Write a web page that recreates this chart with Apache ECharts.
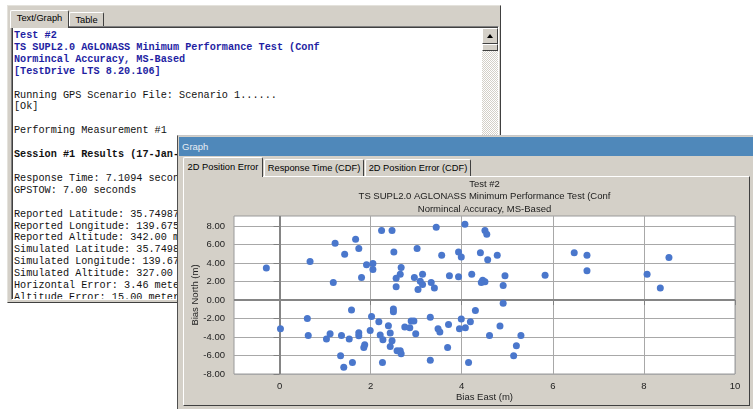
<!DOCTYPE html>
<html>
<head>
<meta charset="utf-8">
<title>2D Position Error</title>
<script src="https://cdn.jsdelivr.net/npm/echarts@6/dist/echarts.min.js"></script>
<style>
  body { margin: 0; width: 753px; height: 409px; overflow: hidden; background: #fff; position: relative;
         font-family: "Liberation Sans", Arial, sans-serif; }
  /* text window behind */
  #tw { position: absolute; left: 7px; top: 5px; width: 494px; height: 298px; box-sizing: border-box;
        background: #d4d0c8; border-top: 1px solid #e4e2dc; border-left: 1px solid #e4e2dc;
        border-right: 1px solid #404040; border-bottom: 1px solid #404040; }
  .tab { position: absolute; box-sizing: border-box; background: #d4d0c8; font-size: 9.3px; color: #000;
         text-align: center; border-top: 1px solid #fff; border-left: 1px solid #fff;
         border-right: 1px solid #404040; border-radius: 2px 2px 0 0; }
  #tbox { position: absolute; left: 3px; top: 20px; width: 488px; height: 274px; box-sizing: border-box;
          background: #fff; overflow: hidden; border-top: 1px solid #808080; border-left: 1px solid #808080;
          border-right: 1px solid #fff; border-bottom: 1px solid #fff; box-shadow: inset 1px 1px 0 #404040; }
  #tbox pre { position: absolute; left: 2px; top: 3px; margin: 0; font-family: "Liberation Mono", "Courier New", monospace;
              font-size: 10.2px; line-height: 11.9px; color: #111; }
  #tbox pre b.blue { color: #1f1fa3; }
  #sb { position: absolute; right: 0; top: 1px; width: 16px; bottom: 0;
        background-image: repeating-conic-gradient(#fff 0 25%, #d4d0c8 0 50%); background-size: 2px 2px; }
  .btn { position: absolute; left: 0; width: 16px; box-sizing: border-box; background: #d4d0c8;
         border-top: 1px solid #fff; border-left: 1px solid #fff; border-right: 1px solid #404040; border-bottom: 1px solid #404040; }
  .up { top: 0; height: 16px; }
  .up:after { content: ""; position: absolute; left: 4px; top: 5px; border-left: 3px solid transparent;
              border-right: 3px solid transparent; border-bottom: 4px solid #000; }
  .thumb { top: 16px; height: 7px; }
  /* graph window in front */
  #gw { position: absolute; left: 177px; top: 135px; width: 600px; height: 300px; background: #d4d0c8;
        border-left: 1px solid #505050; border-top: 1px solid #c8c8c8; }
  #gtitle { position: absolute; left: 1px; top: 1px; right: 0; height: 19px; background: #4f88ba;
            color: #e8eef4; font-size: 9.5px; line-height: 19px; padding-left: 3px; }
  .gtab { position: absolute; box-sizing: border-box; font-size: 9.3px; color: #000; text-align: center;
          border-top: 1px solid #fff; border-left: 1px solid #fff; border-right: 1px solid #404040;
          border-radius: 2px 2px 0 0; background: #d4d0c8; }
  #gpanel { position: absolute; left: 5px; top: 40px; width: 567px; height: 230px; box-sizing: border-box;
            border-top: 1px solid #fff; border-left: 1px solid #fff; border-right: 1px solid #404040; border-bottom: 1px solid #404040; }
  #chart { position: absolute; left: 0; top: 0; width: 753px; height: 409px; z-index: 10; }
</style>
</head>
<body>
<div id="tw">
  <div class="tab" style="left:2px;top:4px;width:59px;height:18px;line-height:15px;z-index:2">Text/Graph</div>
  <div class="tab" style="left:61px;top:6px;width:35px;height:14px;line-height:14px">Table</div>
  <div id="tbox">
<pre><b class="blue">Test #2</b>
<b class="blue">TS SUPL2.0 AGLONASS Minimum Performance Test (Conf</b>
<b class="blue">Normincal Accuracy, MS-Based</b>
<b class="blue">[TestDrive LTS 8.20.106]</b>

Running GPS Scenario File: Scenario 1......
[Ok]

Performing Measurement #1

<b>Session #1 Results (17-Jan-</b>

Response Time: 7.1094 secon
GPSTOW: 7.00 seconds

Reported Latitude: 35.74987
Reported Longitude: 139.675
Reported Altitude: 342.00 m
Simulated Latitude: 35.7498
Simulated Longitude: 139.67
Simulated Altitude: 327.00
Horizontal Error: 3.46 mete
Altitude Error: 15.00 meter</pre>
    <div id="sb"><div class="btn up"></div><div class="btn thumb"></div></div>
  </div>
</div>

<div id="gw">
  <div id="gtitle">Graph</div>
  <div class="gtab" style="left:5px;top:21px;width:80px;height:20px;line-height:19px;z-index:2">2D Position Error</div>
  <div class="gtab" style="left:86px;top:23px;width:100px;height:17px;line-height:16px">Response Time (CDF)</div>
  <div class="gtab" style="left:187px;top:23px;width:106px;height:17px;line-height:16px">2D Position Error (CDF)</div>
  <div id="gpanel"></div>
</div>

<div id="chart"></div>

<script>
// 2D position error samples (m)
var biasEast = [
  -0.29, 0.67, 1.22, 1.67, 1.43, 1.74, 1.18, 1.80, 1.91, 2.05,
  2.05, 2.24, 2.47, 2.51, 2.67, 2.65, 2.56, 2.56, 1.58, 2.50,
  2.50, 0.61, 0.02, 0.63, 1.03, 1.11, 1.36, 1.53, 1.74, 1.74,
  1.34, 1.41, 1.60, 1.87, 1.85, 2.02, 2.18, 1.99, 2.21, 2.27,
  2.39, 2.43, 2.47, 2.43, 2.58, 2.65, 2.67, 2.26, 2.75, 3.44,
  4.07, 4.51, 4.55, 3.02, 3.56, 3.93, 3.99, 4.41, 4.57, 4.78,
  6.47, 2.96, 3.14, 3.09, 3.14, 3.04, 3.33, 3.40, 3.73, 3.93,
  4.22, 4.46, 4.51, 4.43, 4.95, 4.91, 5.83, 4.30, 4.91, 3.31,
  3.99, 4.19, 3.71, 2.89, 2.95, 2.86, 2.99, 3.48, 3.52, 3.95,
  4.08, 4.61, 4.84, 5.30, 5.20, 5.14, 3.69, 3.31, 4.15, 6.75,
  6.75, 8.07, 8.55, 8.36
];
var biasNorth = [
  3.46, 4.18, 6.14, 6.58, 4.95, 5.57, 1.90, 2.45, 3.83, 3.97,
  3.32, 7.52, 7.52, 5.20, 3.53, 2.80, 2.37, 1.43, -1.07, -0.96,
  -1.25, -1.98, -3.10, -3.82, -4.22, -3.64, -3.82, -4.22, -3.53, -3.86,
  -6.03, -7.26, -6.76, -4.84, -5.13, -1.79, -2.34, -3.28, -3.78, -4.29,
  -2.77, -3.57, -4.40, -5.02, -5.49, -5.49, -5.82, -6.76, -2.91, 7.88,
  8.21, 7.52, 7.12, 5.57, 4.84, 5.20, 4.65, 5.13, 4.37, 4.84,
  5.13, 2.45, 2.80, 2.04, 1.68, 1.14, 1.90, 1.32, 2.63, 2.52,
  2.80, 2.15, 1.98, 1.90, 2.63, 1.58, 2.70, -1.14, -0.35, -1.87,
  -2.05, -2.34, -2.63, -2.26, -2.26, -2.99, -3.64, -3.10, -3.46, -3.10,
  -2.99, -3.82, -2.80, -3.82, -4.95, -6.03, -5.13, -6.50, -6.76, 4.84,
  3.17, 2.80, 4.62, 1.32
];
var xTicks = [0, 2, 4, 6, 8, 10];
var yTicks = [-8, -6, -4, -2, 0, 2, 4, 6, 8];
var titleLines = ['Test #2', 'TS SUPL2.0 AGLONASS Minimum Performance Test (Conf', 'Normincal Accuracy, MS-Based'];

var chart = echarts.init(document.getElementById('chart'));
var points = biasEast.map(function (x, i) { return [x, biasNorth[i]]; });

var option = {
  animation: false,
  backgroundColor: 'transparent',
  textStyle: { fontFamily: '"Liberation Sans", Arial, sans-serif' },
  title: {
    text: titleLines.join('\n'),
    left: 484.5, top: 178, padding: 0, textAlign: 'center',
    textStyle: { fontSize: 9.5, fontWeight: 'normal', color: '#1a1a1a', lineHeight: 12.5 }
  },
  grid: {
    left: 234, top: 216, right: 18, bottom: 35,
    show: true, backgroundColor: '#fff', borderColor: '#9a9a9a', borderWidth: 1
  },
  xAxis: {
    type: 'value', min: -1, max: 10,
    name: 'Bias East (m)', nameLocation: 'middle', nameGap: 18,
    nameTextStyle: { fontSize: 9.5, color: '#222' },
    axisLine: { show: false },
    axisTick: { show: true, customValues: xTicks, length: 5, lineStyle: { color: '#808080' } },
    axisLabel: { customValues: xTicks, margin: 7, fontSize: 9.5, color: '#222' },
    splitLine: { show: true, lineStyle: { color: '#a8a8a8', width: 1 } }
  },
  yAxis: {
    type: 'value', min: -8, max: 9.1,
    name: 'Bias North (m)', nameLocation: 'middle', nameGap: 34, nameRotate: 90,
    nameMoveOverlap: false,
    nameTextStyle: { fontSize: 9.5, color: '#222' },
    axisLine: { show: false },
    axisTick: { show: true, customValues: yTicks, length: 6, lineStyle: { color: '#808080' } },
    axisLabel: {
      customValues: yTicks, margin: 9, fontSize: 9.5, color: '#222',
      formatter: function (v) { return v.toFixed(2); }
    },
    splitLine: { show: true, lineStyle: { color: '#a8a8a8', width: 1 } }
  },
  series: [{
    type: 'scatter',
    data: points,
    symbolSize: 7,
    z: 3,
    itemStyle: { color: '#4a77cc', opacity: 1 },
    markLine: {
      silent: true, z: 1, symbol: ['none', 'none'],
      label: { show: false },
      lineStyle: { color: '#858585', width: 2, type: 'solid' },
      data: [{ xAxis: 0 }, { yAxis: 0 }]
    }
  }]
};
chart.setOption(option);
</script>
</body>
</html>
